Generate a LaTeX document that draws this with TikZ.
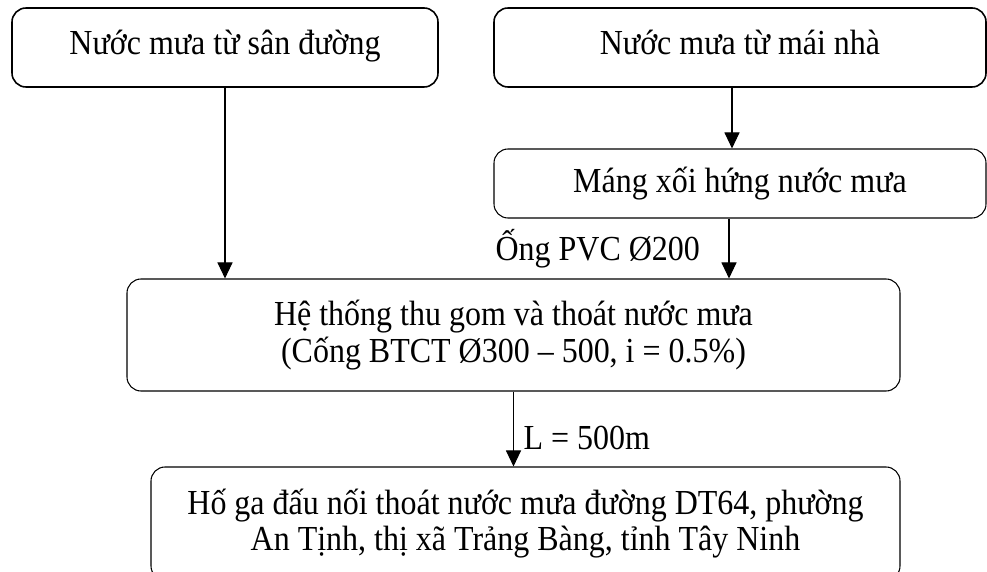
\documentclass[tikz,border=0pt]{standalone}
\usepackage{fontspec}
\setmainfont[FakeStretch=0.91]{Liberation Serif}
\usepackage{tikz}
\usetikzlibrary{arrows.meta}

\begin{document}
\begin{tikzpicture}[
	box/.style={draw, rounded corners=0.28cm, line width=0.6pt, align=center,
		font=\fontsize{20}{20.8}\selectfont},
	topbox/.style={box, line width=0.9pt, minimum height=1.58cm,
		text height=14pt, text depth=6.5pt},
	arr/.style={-{Triangle[length=0.32cm, width=0.3cm]}, line width=0.6pt},
	lbl/.style={inner sep=2pt, font=\fontsize{20}{20.8}\selectfont}
	]
	\useasboundingbox (0,0) rectangle (19.74,-11.44);

	\node[topbox, minimum width=8.52cm] (san) at ( 4.5,-0.95)	{Nước mưa từ sân đường};
	\node[topbox, minimum width=9.84cm] (mai) at (14.8,-0.95)	{Nước mưa từ mái nhà};
	\node[box, minimum width=9.84cm, minimum height=1.38cm] (mang) at (14.8,-3.67)	{Máng xối hứng nước mưa};
	\node[box, minimum width=15.46cm, minimum height=2.24cm] (he) at (10.27,-6.7)
		{Hệ thống thu gom và thoát nước mưa\\(Cống BTCT Ø300 – 500, i = 0.5\%)};
	\node[box, minimum width=14.98cm, minimum height=2.26cm] (hoga) at (10.51,-10.47)
		{Hố ga đấu nối thoát nước mưa đường DT64, phường\\An Tịnh, thị xã Trảng Bàng, tỉnh Tây Ninh};

	\draw[arr] (san.south) -- (san.south |- he.north);
	\draw[arr] ([xshift=-0.16cm]mai.south) -- ([xshift=-0.16cm]mang.north);
	\draw[arr] ([xshift=-0.22cm]mang.south) -- ([xshift=-0.22cm]mang.south |- he.north)
		node[lbl, midway, left=0.5cm]	{Ống PVC Ø200};
	\draw[arr] (he.south) -- (he.south |- hoga.north)
		node[lbl, pos=0.62, right=0.12cm]	{L = 500m};
\end{tikzpicture}
\end{document}
